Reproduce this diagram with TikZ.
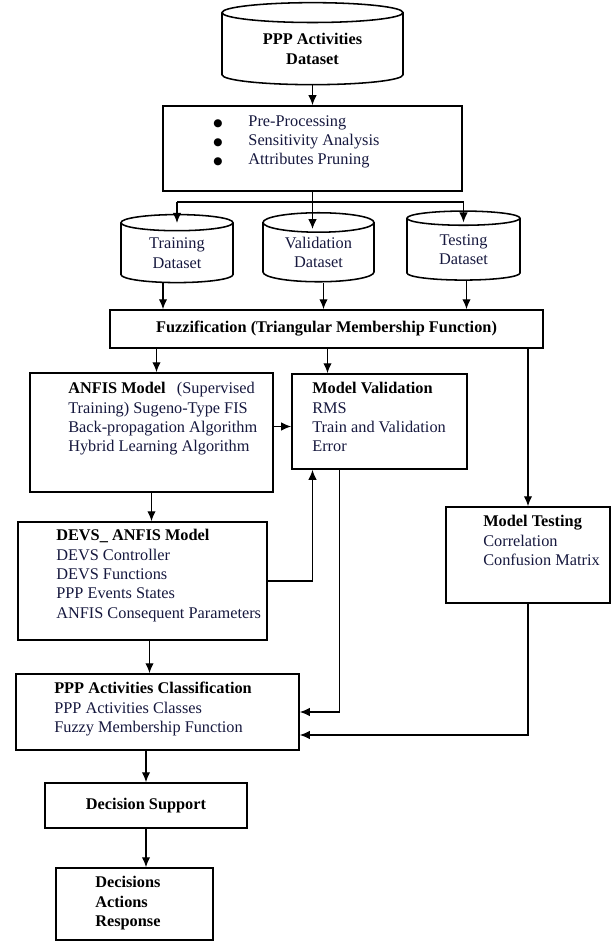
\documentclass[tikz,border=0pt]{standalone}
\usepackage{fontspec}
\setmainfont{Liberation Serif}
\newfontfamily\symfont{DejaVu Sans}
\usepackage{tikz}
\usetikzlibrary{arrows.meta,shapes.geometric,calc}

\definecolor{ink}{RGB}{22,24,62}
\newcommand{\pxu}{0.025cm}
\newcommand{\puce}{\makebox[25pt][l]{\color{black}{\symfont\fontsize{7.5}{8}\selectfont ●}}}

\begin{document}
\begin{tikzpicture}[x=0.025cm, y=-0.025cm,
  font=\fontsize{11.6}{13.8}\selectfont,
  box/.style={draw, line width=1.3pt, rectangle, inner sep=0pt},
  db/.style={draw, line width=1.1pt, cylinder, shape border rotate=90, inner sep=0pt, align=center, text=ink},
  txt/.style={anchor=north west, align=left, inner sep=0pt, text=ink},
  bold/.style={font=\fontsize{11.6}{13.8}\selectfont\bfseries, text=black},
  flow/.style={black, line width=0.8pt, ->, >={Latex[length=7pt,width=6pt]}},
  wire/.style={black, line width=0.8pt}]
\useasboundingbox (0,0) rectangle (613,943);

% jeu de donnees
\node[db, bold, aspect=0.2, minimum width=181*\pxu, minimum height=82*\pxu] (ppp) at(312.5,49) {PPP Activities\\Dataset};

% pretraitement
\node[box, minimum width=299*\pxu, minimum height=85*\pxu] (prep) at(312.5,148.5) {};
\node[txt] (prepT) at(213,115) {\puce Pre-Processing\\\puce Sensitivity Analysis\\\puce Attributes Pruning};

% train / validation / test
\node[db, aspect=0.29, minimum width=112*\pxu, minimum height=68*\pxu] (train) at(177,253) {Training\\Dataset};
\node[db, aspect=0.29, minimum width=111*\pxu, minimum height=69*\pxu] (valid) at(318.5,252.5) {Validation\\Dataset};
\node[db, aspect=0.29, minimum width=113*\pxu, minimum height=69*\pxu] (test) at(463.5,249.5) {Testing\\Dataset};

% fuzzification
\node[box, bold, minimum width=433*\pxu, minimum height=38*\pxu] (fuzz) at(326.5,329) {Fuzzification (Triangular Membership Function)};

% anfis
\node[box, minimum width=243*\pxu, minimum height=119*\pxu] (anfis) at(151.5,432.5) {};
\node[txt] (anfisT) at(68,382) {\textbf{\color{black}ANFIS Model}\hspace{8pt}(Supervised\\Training) Sugeno-Type FIS\\Back-propagation Algorithm\\Hybrid Learning Algorithm};

% validation
\node[box, minimum width=175*\pxu, minimum height=95*\pxu] (mval) at(379.5,421.5) {};
\node[txt] (mvalT) at(312,382) {\textbf{\color{black}Model Validation}\\RMS\\Train and Validation\\Error};

% test
\node[box, minimum width=164*\pxu, minimum height=96*\pxu] (mtest) at(528,555) {};
\node[txt] (mtestT) at(483,515) {\textbf{\color{black}Model Testing}\\Correlation\\Confusion Matrix};

% devs
\node[box, minimum width=249*\pxu, minimum height=118*\pxu] (devs) at(142.5,581) {};
\node[txt] (devsT) at(56,529) {\textbf{\color{black}DEVS\_ ANFIS Model}\\DEVS Controller\\DEVS Functions\\PPP Events States\\ANFIS Consequent Parameters};

% classification
\node[box, minimum width=283*\pxu, minimum height=76*\pxu] (cls) at(157.5,712) {};
\node[txt] (clsT) at(54,682) {\textbf{\color{black}PPP Activities Classification}\\PPP Activities Classes\\Fuzzy Membership Function};

% decision
\node[box, bold, minimum width=202*\pxu, minimum height=45*\pxu] (dsup) at(146,805.5) {Decision Support};
\node[box, minimum width=157*\pxu, minimum height=72*\pxu] (dec) at(134.5,904) {};
\node[txt, bold] (decT) at(95,876) {Decisions\\Actions\\Response};

% fleches
\draw[flow] (ppp.south) -- (prep.north);
\coordinate (split) at(312,202);
\draw[wire] (split -| train.north) -- (split -| test.north);
\draw[flow] (prep.south) -- ($(prep.south |- valid.north)+(0,17)$);
\draw[flow] (split -| train.north) -- ($(train.north)+(0,9)$);
\draw[flow] (split -| test.north) -- ($(test.north)+(0,12)$);

\draw[flow] ($(train.south)+(-14,0)$) -- ($(fuzz.north -| train.south)+(-14,0)$);
\draw[flow] ($(valid.south)+(5,0)$) -- ($(fuzz.north -| valid.south)+(5,0)$);
\draw[flow] ($(test.south)+(3,0)$) -- ($(fuzz.north -| test.south)+(3,0)$);

\draw[flow] ($(fuzz.south -| anfis.north)+(5,0)$) -- ($(anfis.north)+(5,0)$);
\draw[flow] ($(fuzz.south -| mval.north)+(-52,0)$) -- ($(mval.north)+(-52,0)$);
\draw[flow] (fuzz.south -| mtest.north) -- (mtest.north);
\draw[flow] ($(anfis.east)+(0,-6)$) -- ($(anfis.east -| mval.west)+(0,-6)$);

\draw[flow] (anfis.south) -- (anfis.south |- devs.north);
\draw[flow] (devs.east) -| ($(mval.south)+(-67,0)$);
\draw[flow] ($(devs.south)+(7,0)$) -- ($(devs.south |- cls.north)+(7,0)$);
\draw[flow] ($(mval.south)+(-40,0)$) |- (cls.east);
\draw[flow] (mtest.south) |- ($(cls.east)+(0,23)$);

\draw[flow] (cls.south -| dsup.north) -- (dsup.north);
\draw[flow] (dsup.south) -- (dsup.south |- dec.north);

\end{tikzpicture}
\end{document}
